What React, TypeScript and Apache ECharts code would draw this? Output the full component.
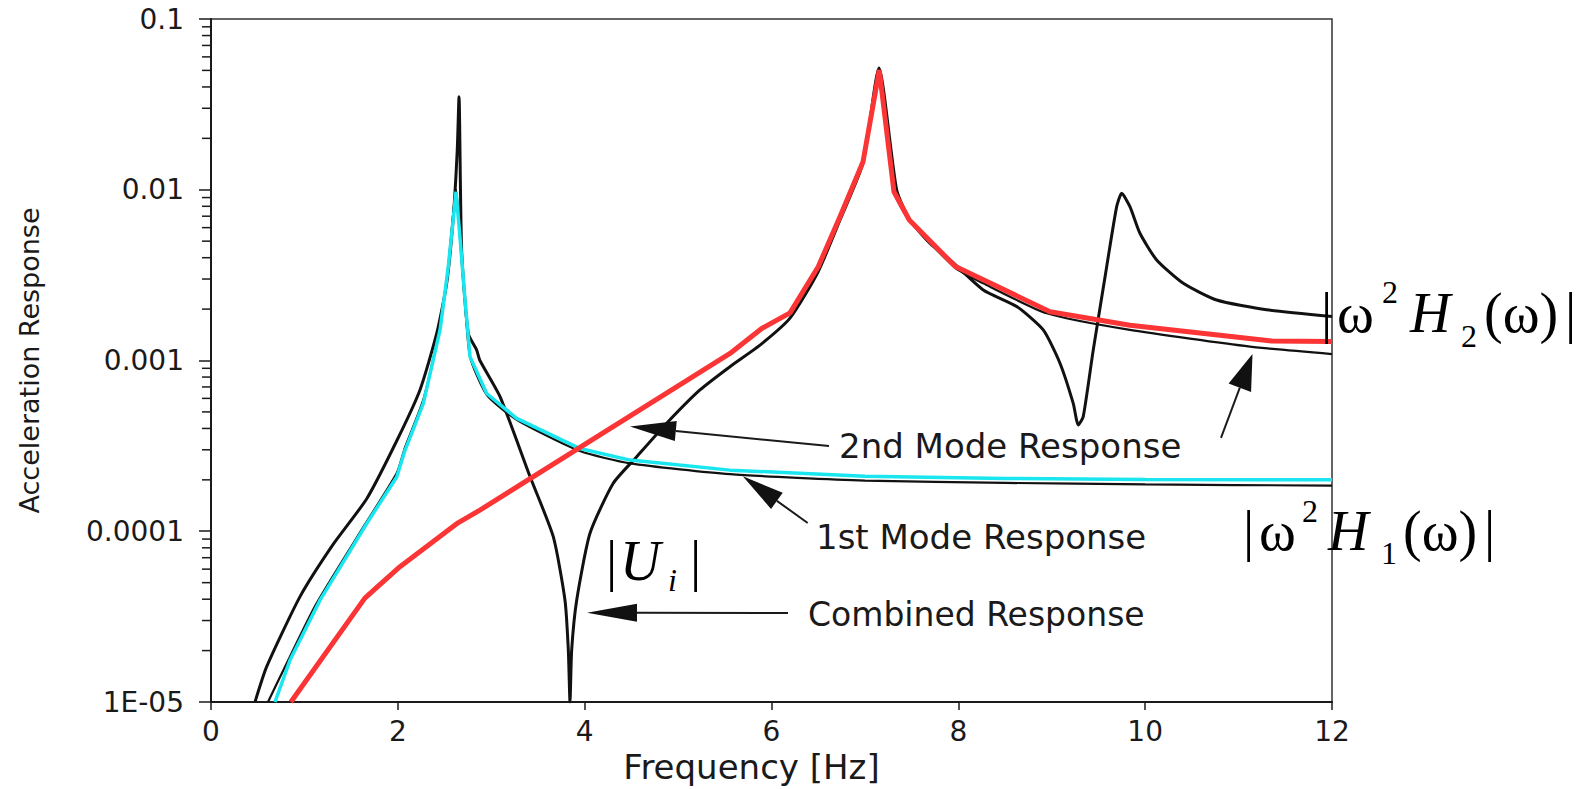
import React, { useEffect, useRef } from "react";
import * as echarts from "echarts";

// ---------- data ----------
const xTickValues = [0, 2, 4, 6, 8, 10, 12];
const yTickValues = [0.00001, 0.0001, 0.001, 0.01, 0.1];
const yTickLabels = ["1E-05", "0.0001", "0.001", "0.01", "0.1"];
const yMinorTicks = [
  0.00002, 0.00003, 0.00004, 0.00005, 0.00006, 0.00007, 0.00008, 0.00009,
  0.0002, 0.0003, 0.0004, 0.0005, 0.0006, 0.0007, 0.0008, 0.0009,
  0.002, 0.003, 0.004, 0.005, 0.006, 0.007, 0.008, 0.009,
  0.02, 0.03, 0.04, 0.05, 0.06, 0.07, 0.08, 0.09,
];

// Combined response (black, thick)
const combinedFreq = [
  0.471, 0.596, 0.953, 1.309, 1.667, 1.99, 2.237, 2.416, 2.523, 2.594, 2.636, 2.655,
  2.683, 2.754, 2.844, 2.879, 3.094, 3.415, 3.664, 3.789, 3.825, 3.843,
  3.861, 3.915, 4.057, 4.306, 4.557, 4.878, 5.234, 5.555, 5.877, 6.198, 6.498, 6.733,
  6.98, 7.15, 7.34, 7.482, 7.696, 7.93, 8.267, 8.625, 8.909, 9.088, 9.23, 9.284, 9.337,
  9.444, 9.588, 9.695, 9.748, 9.837, 9.944, 10.123, 10.408, 10.765, 11.3, 12,
];
const combinedAcc = [
  1.0e-5, 1.61e-5, 4.14e-5, 8.4e-5, 1.55e-4, 3.4e-4, 6.72e-4, 1.44e-3, 2.83e-3, 6.96e-3, 1.71e-2, 3.51e-2,
  4.4e-3, 1.44e-3, 1.15e-3, 1.0e-3, 6.14e-4, 2.09e-4, 9.29e-5, 3.96e-5, 2.02e-5, 1.0e-5,
  2.02e-5, 3.96e-5, 9.73e-5, 1.91e-4, 2.73e-4, 4.29e-4, 6.72e-4, 9.2e-4, 1.23e-3, 1.77e-3, 3.3e-3, 6.65e-3,
  1.435e-2, 5.16e-2, 9.97e-3, 6.65e-3, 4.86e-3, 3.8e-3, 2.59e-3, 2.07e-3, 1.51e-3, 9.64e-4, 5.61e-4, 4.19e-4, 4.69e-4,
  1.15e-3, 3.54e-3, 7.96e-3, 9.53e-3, 7.96e-3, 5.56e-3, 3.88e-3, 2.83e-3, 2.26e-3, 1.98e-3, 1.81e-3,
];

// 1st mode response (black, thin)
const mode1Freq = [
  0.61, 0.79, 1.12, 1.65, 1.99, 2.077, 2.273, 2.452, 2.54, 2.625, 2.665, 2.719, 2.773,
  2.951, 3.272, 3.95, 4.485, 5.556, 7.0, 8.5, 10, 12,
];
const mode1Acc = [
  1.0e-5, 1.6e-5, 3.7e-5, 1.1e-4, 2.2e-4, 3.1e-4, 5.9e-4, 1.58e-3, 3.6e-3, 1.0e-2, 5.2e-3, 2.2e-3, 1.05e-3,
  6.3e-4, 4.5e-4, 2.95e-4, 2.5e-4, 2.16e-4, 1.98e-4, 1.92e-4, 1.88e-4, 1.85e-4,
];

// 2nd mode response (black, thin)
const mode2Freq = [
  0.855, 1.647, 2.023, 2.644, 2.879, 5.556, 5.895, 6.198, 6.5, 6.733, 6.98, 7.154, 7.311,
  7.475, 7.964, 8.267, 8.946, 9.837, 11.122, 12,
];
const mode2Acc = [
  1.0e-5, 4.06e-5, 6.2e-5, 1.12e-4, 1.33e-4, 1.1e-3, 1.54e-3, 1.9e-3, 3.54e-3, 6.95e-3, 1.46e-2, 5.03e-2, 9.73e-3,
  6.65e-3, 3.5e-3, 2.83e-3, 1.89e-3, 1.51e-3, 1.205e-3, 1.09e-3,
];

// |w^2 H1(w)| (cyan)
const h1Freq = [
  0.685, 0.846, 1.167, 1.667, 1.988, 2.077, 2.273, 2.452, 2.54, 2.623, 2.665, 2.719, 2.773,
  2.951, 3.272, 3.95, 4.485, 5.556, 7.0, 8.5, 10, 12,
];
const h1Acc = [
  1.0e-5, 1.76e-5, 3.95e-5, 1.11e-4, 2.08e-4, 2.98e-4, 5.61e-4, 1.51e-3, 3.54e-3, 9.73e-3, 5.31e-3, 2.26e-3, 1.05e-3,
  6.41e-4, 4.58e-4, 3.05e-4, 2.61e-4, 2.28e-4, 2.1e-4, 2.04e-4, 2.01e-4, 2.0e-4,
];

// |w^2 H2(w)| (red)
const h2Freq = [
  0.855, 1.647, 2.023, 2.644, 2.879, 5.556, 5.895, 6.198, 6.5, 6.733, 6.98, 7.154, 7.311,
  7.475, 7.964, 8.981, 9.837, 11.354, 12,
];
const h2Acc = [
  1.0e-5, 4.06e-5, 6.2e-5, 1.12e-4, 1.33e-4, 1.1e-3, 1.54e-3, 1.9e-3, 3.54e-3, 6.95e-3, 1.46e-2, 5.03e-2, 9.73e-3,
  6.65e-3, 3.57e-3, 1.93e-3, 1.61e-3, 1.3e-3, 1.29e-3,
];

// annotation texts
const annotationTexts = ["2nd Mode Response", "1st Mode Response", "Combined Response"];

const zip = (xs: number[], ys: number[]) => xs.map((x, i) => [x, ys[i]]);

const SANS = "'DejaVu Sans', sans-serif";
const SERIF = "'Liberation Serif', 'Times New Roman', serif";
const INK = "#1a1a1a";

function arrow(tail: number[], tip: number[], len: number, hw: number) {
  const dx = tip[0] - tail[0];
  const dy = tip[1] - tail[1];
  const d = Math.hypot(dx, dy);
  const ux = dx / d;
  const uy = dy / d;
  const bx = tip[0] - ux * len;
  const by = tip[1] - uy * len;
  const px = -uy;
  const py = ux;
  return [
    {
      type: "line",
      shape: { x1: tail[0], y1: tail[1], x2: bx, y2: by },
      style: { stroke: INK, lineWidth: 2 },
      z: 50,
    },
    {
      type: "polygon",
      shape: {
        points: [
          [tip[0], tip[1]],
          [bx + px * hw, by + py * hw],
          [bx - px * hw, by - py * hw],
        ],
      },
      style: { fill: "#111" },
      z: 50,
    },
  ];
}

function txt(
  text: string,
  x: number,
  baseline: number,
  size: number,
  family: string,
  italic = false,
  fill = "#000"
) {
  const y = baseline - 0.3375 * size;
  return {
    type: "text",
    x,
    y,
    z: 60,
    style: {
      text,
      fontSize: size,
      fontFamily: family,
      fontStyle: italic ? "italic" : "normal",
      fill,
      align: "left",
      textAlign: "left",
      verticalAlign: "middle",
      textVerticalAlign: "middle",
    },
  };
}

function sansText(text: string, x: number, yMid: number, size: number) {
  return {
    type: "text",
    x,
    y: yMid,
    z: 60,
    style: {
      text,
      fontSize: size,
      fontFamily: SANS,
      fill: INK,
      align: "left",
      textAlign: "left",
      verticalAlign: "middle",
      textVerticalAlign: "middle",
    },
  };
}

export default function App() {
  const ref = useRef<HTMLDivElement>(null);

  useEffect(() => {
    if (!ref.current) return;
    const chart = echarts.init(ref.current, undefined, { renderer: "svg" });

    const graphics: any[] = [
      sansText(annotationTexts[0], 839, 446, 34),
      sansText(annotationTexts[1], 816, 537, 34),
      sansText(annotationTexts[2], 808, 614, 33),
      ...arrow([829, 446], [630, 426.6], 46, 10),
      ...arrow([807.7, 523], [742.8, 476.3], 42, 10),
      ...arrow([788, 613], [587, 612.7], 50, 9),
      ...arrow([1221, 437.8], [1252.5, 354], 36, 12),
      // |w^2 H2(w)|
      txt("|", 1321, 332, 56, SERIF),
      txt("ω", 1337, 332, 56, SERIF),
      txt("2", 1382, 303, 32, SERIF),
      txt("H", 1410, 332, 56, SERIF, true),
      txt("2", 1461, 347, 32, SERIF),
      txt("(ω)", 1484, 332, 56, SERIF),
      txt("|", 1565, 332, 56, SERIF),
      // |w^2 H1(w)|
      txt("|", 1243, 550, 56, SERIF),
      txt("ω", 1259, 550, 56, SERIF),
      txt("2", 1302, 522, 32, SERIF),
      txt("H", 1328, 550, 56, SERIF, true),
      txt("1", 1381, 564, 32, SERIF),
      txt("(ω)", 1403, 550, 56, SERIF),
      txt("|", 1484, 550, 56, SERIF),
      // |U_i|
      txt("|", 606, 580, 56, SERIF),
      txt("U", 620, 580, 56, SERIF, true),
      txt("i", 668, 591, 32, SERIF, true),
      txt("|", 690, 580, 56, SERIF),
    ];

    const blackLine = (name: string, data: number[][], width: number, z: number) => ({
      type: "line",
      name,
      data,
      showSymbol: false,
      symbol: "none",
      smooth: 0.2,
      lineStyle: { color: "#111", width },
      z,
    });

    const option: any = {
      animation: false,
      backgroundColor: "#ffffff",
      grid: {
        left: 211,
        right: 257,
        top: 19,
        bottom: 87,
        containLabel: false,
        show: true,
        borderColor: "#333",
        borderWidth: 1.5,
      },
      xAxis: {
        type: "value",
        min: 0,
        max: 12,
        interval: 2,
        name: "Frequency [Hz]",
        nameLocation: "middle",
        nameGap: 32,
        nameTextStyle: { fontSize: 34, fontFamily: SANS, color: INK, padding: [0, 40, 0, 0] },
        axisLine: { show: true, lineStyle: { color: INK, width: 2 } },
        axisTick: { show: true, inside: false, length: 8, lineStyle: { color: INK, width: 1.5 } },
        axisLabel: {
          fontSize: 28,
          fontFamily: SANS,
          color: INK,
          margin: 15,
          formatter: (v: number) => (xTickValues.includes(v) ? String(v) : ""),
        },
        splitLine: { show: false },
      },
      yAxis: {
        type: "log",
        logBase: 10,
        min: 0.00001,
        max: 0.1,
        name: "Acceleration Response",
        nameLocation: "middle",
        nameGap: 168,
        nameTextStyle: { fontSize: 27, fontFamily: SANS, color: INK },
        axisLine: { show: true, lineStyle: { color: INK, width: 2 } },
        axisTick: { show: true, inside: false, length: 12, lineStyle: { color: INK, width: 1.5 } },
        minorTick: { show: false },
        axisLabel: {
          fontSize: 28,
          fontFamily: SANS,
          color: INK,
          margin: 27,
          formatter: (v: number) => {
            const i = yTickValues.findIndex(
              (t) => Math.abs(Math.log10(t) - Math.log10(v)) < 1e-6
            );
            return i >= 0 ? yTickLabels[i] : "";
          },
        },
        splitLine: { show: false },
      },
      series: [
        {
          type: "custom",
          name: "minor ticks",
          silent: true,
          clip: false,
          data: yMinorTicks.map((v) => [0, v]),
          renderItem: (_p: any, api: any) => {
            const p = api.coord([0, api.value(1)]);
            return {
              type: "line",
              shape: { x1: p[0] - 9, y1: p[1], x2: p[0], y2: p[1] },
              style: { stroke: INK, lineWidth: 1.5 },
            };
          },
          z: 3,
        },
        blackLine("2nd Mode Response", zip(mode2Freq, mode2Acc), 2.2, 4),
        blackLine("1st Mode Response", zip(mode1Freq, mode1Acc), 2.2, 4),
        blackLine("Combined Response", zip(combinedFreq, combinedAcc), 3, 5),
        {
          type: "line",
          name: "|ω² H1(ω)|",
          data: zip(h1Freq, h1Acc),
          showSymbol: false,
          symbol: "none",
          lineStyle: { color: "#19e6ee", width: 3.5 },
          z: 6,
        },
        {
          type: "line",
          name: "|ω² H2(ω)|",
          data: zip(h2Freq, h2Acc),
          showSymbol: false,
          symbol: "none",
          lineStyle: { color: "#fb3535", width: 5 },
          z: 7,
        },
      ],
      graphic: graphics,
    };

    chart.setOption(option);
    return () => chart.dispose();
  }, []);

  return (
    <div
      ref={ref}
      style={{ position: "absolute", left: 0, top: 0, width: 1589, height: 789, background: "#fff" }}
    />
  );
}
